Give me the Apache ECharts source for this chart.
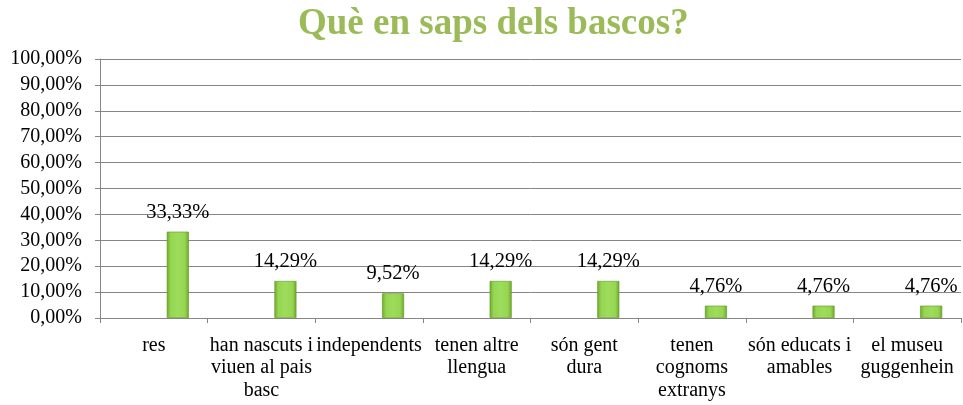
<!DOCTYPE html>
<html>
<head>
<meta charset="utf-8">
<script src="https://cdn.jsdelivr.net/npm/echarts@6/dist/echarts.min.js"></script>
<style>html,body{margin:0;padding:0;background:#fff;}#c{width:963px;height:405px;}</style>
</head>
<body>
<div id="c"></div>
<script>
const titleText = 'Què en saps dels bascos?';
const categories = [
  'res',
  'han nascuts i\nviuen al pais\nbasc',
  'independents',
  'tenen altre\nllengua',
  'són gent\ndura',
  'tenen\ncognoms\nextranys',
  'són educats i\namables',
  'el museu\nguggenhein'
];
const values = [33.33, 14.29, 9.52, 14.29, 14.29, 4.76, 4.76, 4.76];
const emptySlot = ['-', '-', '-', '-', '-', '-', '-', '-'];
const yTicks = { min: 0, max: 100, interval: 10 };

const serif = '"Times New Roman", "Liberation Serif", serif';
const fmt = v => v.toFixed(2).replace('.', ',') + '%';

const chart = echarts.init(document.getElementById('c'), null, { renderer: 'canvas' });
chart.setOption({
  animation: false,
  title: {
    text: titleText,
    left: 293,
    top: 1,
    textStyle: { color: '#9BBB59', fontFamily: serif, fontWeight: 'bold', fontSize: 37 }
  },
  grid: { left: 100, right: 2, top: 59, bottom: 87, containLabel: false },
  xAxis: {
    type: 'category',
    data: categories,
    axisLine: { lineStyle: { color: '#868686', width: 1 } },
    axisTick: { show: true, length: 5, lineStyle: { color: '#868686' } },
    axisLabel: {
      interval: 0, color: '#000', fontFamily: serif, fontSize: 20,
      lineHeight: 22.5, margin: 16
    }
  },
  yAxis: {
    type: 'value',
    min: yTicks.min, max: yTicks.max, interval: yTicks.interval,
    axisLine: { show: true, lineStyle: { color: '#868686' } },
    axisTick: { show: true, length: 5, lineStyle: { color: '#868686' } },
    splitLine: { lineStyle: { color: '#868686', width: 1 } },
    axisLabel: { color: '#000', fontFamily: serif, fontSize: 20, margin: 18, formatter: fmt }
  },
  series: [
    { type: 'bar', name: 'spacer', data: emptySlot, barWidth: 22, barGap: '118%', silent: true },
    {
      type: 'bar', name: 'values', data: values, barWidth: 22,
      itemStyle: {
        color: new echarts.graphic.LinearGradient(0, 0, 1, 0, [
          { offset: 0, color: '#6EA82A' },
          { offset: 0.18, color: '#96D652' },
          { offset: 0.5, color: '#9EDC5C' },
          { offset: 0.82, color: '#96D652' },
          { offset: 1, color: '#6EA82A' }
        ]),
        borderColor: '#5F9423', borderWidth: 0.6
      },
      label: {
        show: true, position: 'top', distance: 9, color: '#000',
        fontFamily: serif, fontSize: 20.5, formatter: p => fmt(p.value)
      }
    }
  ]
});
</script>
</body>
</html>
